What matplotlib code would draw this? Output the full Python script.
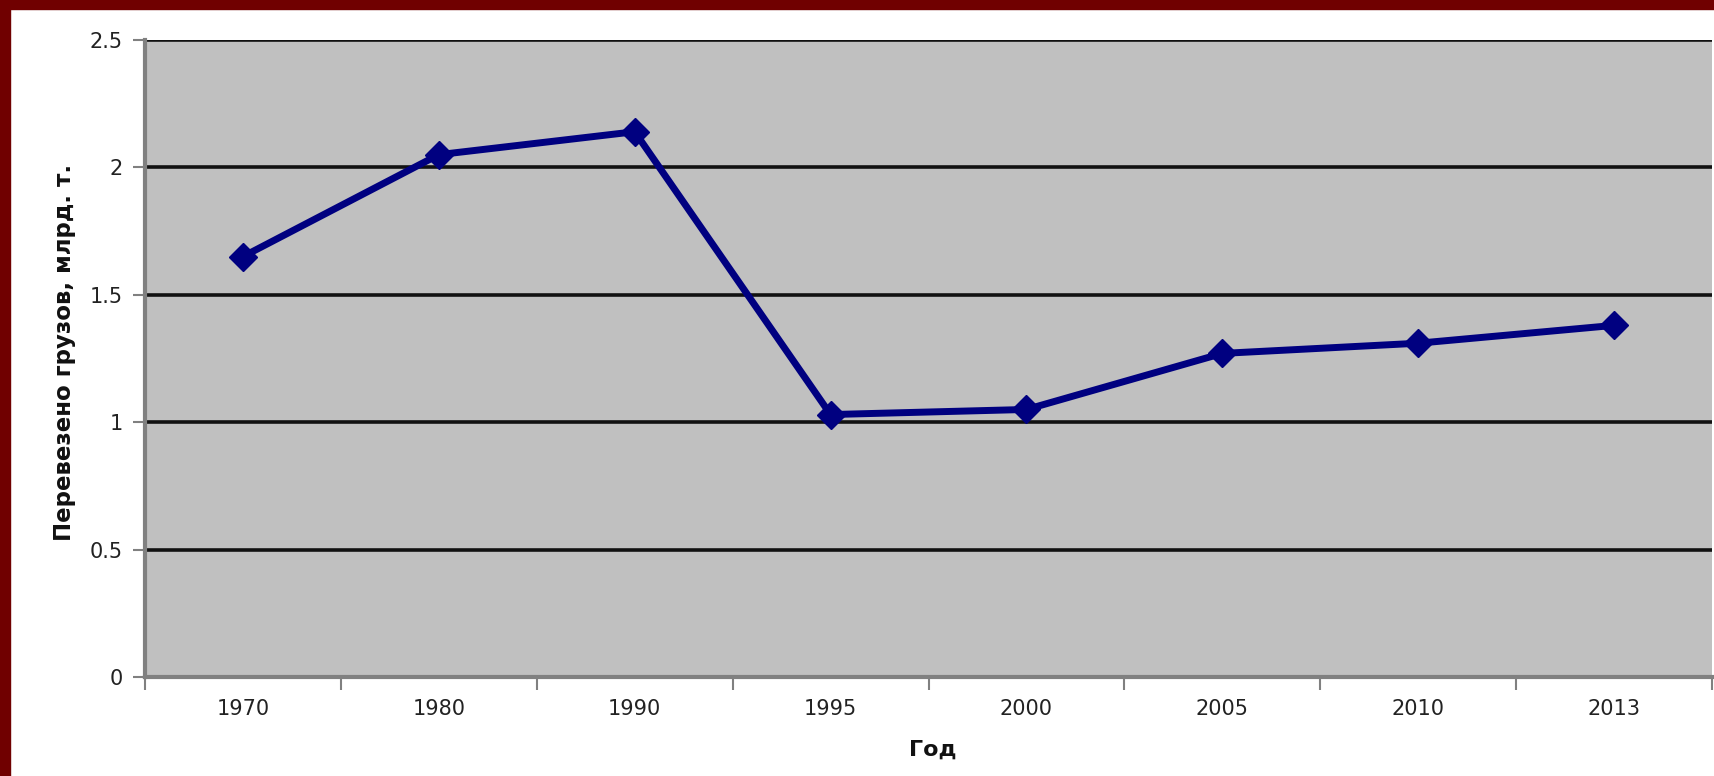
import numpy as np
import matplotlib.pyplot as plt
from matplotlib.patches import Rectangle

# ------------------------------------------------
#  Данные
# ------------------------------------------------

years = ["1970", "1980", "1990", "1995", "2000", "2005", "2010", "2013"]
cargo = [1.65, 2.05, 2.14, 1.03, 1.05, 1.27, 1.31, 1.38]

y_ticks = [0, 0.5, 1, 1.5, 2, 2.5]
y_tick_labels = ["0", "0.5", "1", "1.5", "2", "2.5"]

LINE_COLOR = "#000080"
PLOT_BG = "#c0c0c0"
BORDER_RED = "#700000"

plt.rcParams['font.family'] = ['DejaVu Sans']

# ------------------------------------------------
#  Рисунок
# ------------------------------------------------

W, H = 1714, 776
fig = plt.figure(figsize=(W / 100, H / 100), dpi=100)
fig.patch.set_facecolor("white")

# рамка слева и сверху
fig.patches.append(Rectangle((0, 0), 10 / W, 1, transform=fig.transFigure,
                             color=BORDER_RED, zorder=0))
fig.patches.append(Rectangle((0, 1 - 9 / H), 1, 9 / H, transform=fig.transFigure,
                             color=BORDER_RED, zorder=0))

left, right, top, bottom = 145, 1712, 40, 677
ax = fig.add_axes([left / W, 1 - bottom / H, (right - left) / W, (bottom - top) / H])
ax.set_facecolor(PLOT_BG)

x = np.arange(len(years))
ax.plot(x, cargo, color=LINE_COLOR, linewidth=5, marker="D",
        markersize=14, markerfacecolor=LINE_COLOR, markeredgecolor=LINE_COLOR,
        zorder=3)

ax.set_xlim(-0.5, len(years) - 0.5)
ax.set_ylim(0, 2.5)

# сетка
for yv in y_ticks[1:]:
    ax.axhline(yv, color="#111111", linewidth=2.6, zorder=1)

ax.set_yticks(y_ticks)
ax.set_yticklabels(y_tick_labels)
ax.set_xticks(x)
ax.set_xticklabels(years)
ax.set_xticks(np.arange(-0.5, len(years), 1), minor=True)

ax.tick_params(axis="y", length=9, width=1.5, color="#808080", pad=7,
               labelsize=15, labelcolor="#222222")
ax.tick_params(axis="x", which="major", length=0, pad=16,
               labelsize=15, labelcolor="#222222")
ax.tick_params(axis="x", which="minor", length=9, width=1.5, color="#808080")

for side in ["top", "right"]:
    ax.spines[side].set_visible(False)
ax.spines["left"].set_color("#808080")
ax.spines["left"].set_linewidth(3)
ax.spines["bottom"].set_color("#808080")
ax.spines["bottom"].set_linewidth(3)

fig.text(65 / W, 1 - 352 / H, "Перевезено грузов, млрд. т.", rotation=90,
         ha="center", va="center", fontsize=16.5, fontweight="bold", color="#111111")
fig.text(933 / W, 1 - 750 / H, "Год", ha="center", va="center",
         fontsize=16, fontweight="bold", color="#111111")

fig.savefig("out.png", dpi=100)
